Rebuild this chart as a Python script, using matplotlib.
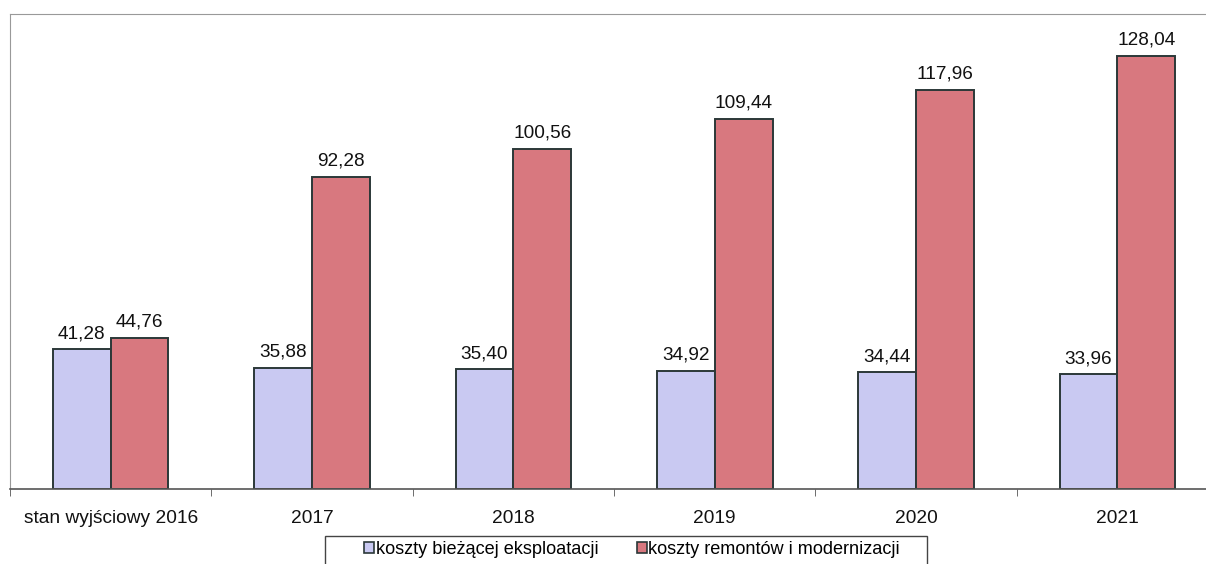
import numpy as np
import matplotlib.pyplot as plt
from matplotlib.patches import Rectangle

plt.rcParams['font.family'] = ['Liberation Sans', 'DejaVu Sans']

# ==============================
# DATA
# ==============================
categories = ["stan wyjściowy 2016", "2017", "2018", "2019", "2020", "2021"]
koszty_eksploatacji = [41.28, 35.88, 35.40, 34.92, 34.44, 33.96]
koszty_remontow = [44.76, 92.28, 100.56, 109.44, 117.96, 128.04]

series_names = ["koszty bieżącej eksploatacji", "koszty remontów i modernizacji"]

# ==============================
# PLOT
# ==============================
W, H = 1206, 564
fig = plt.figure(figsize=(W / 100, H / 100), dpi=100)
ax = fig.add_axes([10 / W, 75 / H, 1196 / W, 475 / H])

x = np.arange(len(categories))
w = 0.287

b1 = ax.bar(x - w / 2, koszty_eksploatacji, w, color="#c9c9f2",
            edgecolor="#2b3838", linewidth=1.4, label=series_names[0])
b2 = ax.bar(x + w / 2, koszty_remontow, w, color="#d8787f",
            edgecolor="#2b3838", linewidth=1.4, label=series_names[1])

def fmt(v):
    return f"{v:.2f}".replace(".", ",")

for bars, vals in [(b1, koszty_eksploatacji), (b2, koszty_remontow)]:
    for bar, v in zip(bars, vals):
        ax.annotate(fmt(v), (bar.get_x() + bar.get_width() / 2, v),
                    xytext=(0, 5), textcoords="offset points",
                    ha="center", va="bottom", fontsize=13.7, color="#111111")

ax.set_xlim(-0.5, 5.44)
ax.set_ylim(0, 140.4)

ax.set_xticks(x)
ax.set_xticklabels(categories, fontsize=13.8, color="#111111")
ax.set_xticks(np.arange(-0.5, 5.5, 1), minor=True)
ax.tick_params(axis="x", which="major", length=0, pad=15)
ax.tick_params(axis="x", which="minor", length=5, color="#555555", direction="out")
ax.set_yticks([])

ax.spines["right"].set_visible(False)
ax.spines["top"].set_color("#999999")
ax.spines["left"].set_color("#999999")
ax.spines["bottom"].set_color("#555555")
ax.spines["bottom"].set_linewidth(1.2)

# legend (Excel style box)
leg = fig.legend(loc="upper left", bbox_to_anchor=(364 / W, (H - 541) / H), ncol=2,
                 fontsize=13.1, frameon=False,
                 handlelength=0.55, handleheight=0.55, handletextpad=0.1,
                 columnspacing=2.1, borderpad=0, borderaxespad=0)
for h in leg.legend_handles:
    h.set_edgecolor("#2b3838")
    h.set_linewidth(1.2)
fig.patches.append(Rectangle((325 / W, -0.01), 602 / W, (H - 536) / H + 0.01,
                             transform=fig.transFigure, fill=False,
                             edgecolor="#444444", linewidth=1.0))

fig.savefig("out.png", dpi=100)
